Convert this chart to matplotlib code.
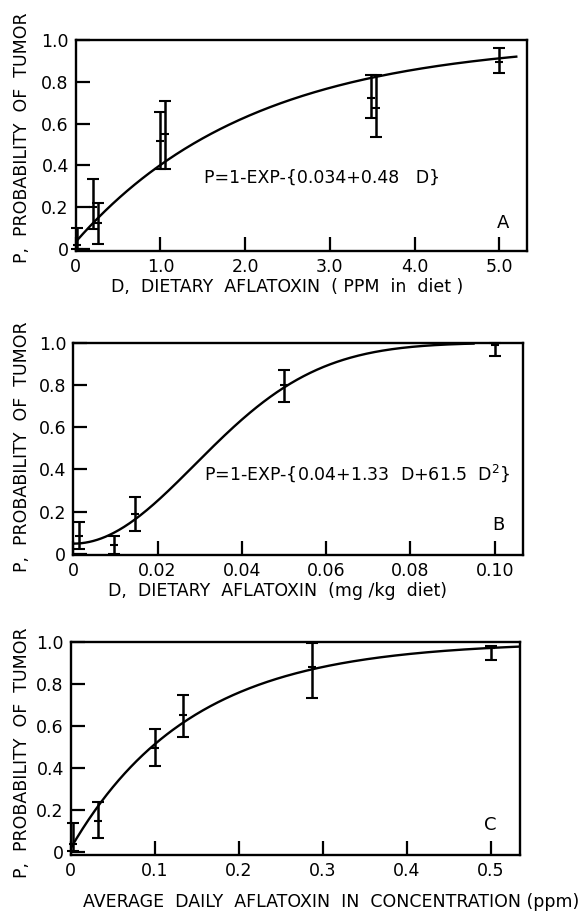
import numpy as np
import matplotlib.pyplot as plt

W, H = 579, 911

# panel A: dietary aflatoxin (ppm in diet)
a_dose = [0.013, 0.2, 0.265, 1.0, 1.05, 3.49, 3.55, 5.0]
a_prob = [0.02, 0.2, 0.124, 0.516, 0.55, 0.72, 0.676, 0.896]
a_low = [0.0, 0.093, 0.023, 0.382, 0.382, 0.626, 0.536, 0.843]
a_high = [0.10, 0.333, 0.222, 0.653, 0.708, 0.833, 0.833, 0.96]
a_xticks = [0, 1, 2, 3, 4, 5]
a_xlabels = ['0', '1.0', '2.0', '3.0', '4.0', '5.0']

# panel B: dietary aflatoxin (mg/kg diet)
b_dose = [0.0014, 0.0097, 0.0147, 0.050, 0.100]
b_prob = [0.087, 0.044, 0.19, 0.80, 0.99]
b_low = [0.024, 0.0, 0.11, 0.718, 0.937]
b_high = [0.153, 0.084, 0.269, 0.87, 1.0]
b_xticks = [0, 0.02, 0.04, 0.06, 0.08, 0.10]
b_xlabels = ['0', '0.02', '0.04', '0.06', '0.08', '0.10']

# panel C: average daily concentration (ppm)
c_dose = [0.003, 0.032, 0.1, 0.134, 0.287, 0.5]
c_prob = [0.04, 0.148, 0.497, 0.65, 0.88, 0.968]
c_low = [0.008, 0.071, 0.408, 0.549, 0.732, 0.913]
c_high = [0.142, 0.24, 0.587, 0.749, 0.992, 0.98]
c_xticks = [0, 0.1, 0.2, 0.3, 0.4, 0.5]
c_xlabels = ['0', '0.1', '0.2', '0.3', '0.4', '0.5']

yticks = [0, 0.2, 0.4, 0.6, 0.8, 1.0]
ylabels = ['0', '0.2', '0.4', '0.6', '0.8', '1.0']

# fitted curves P = 1 - exp(-(c0 + c1 D + c2 D^2)), as drawn
fit_a = [0.034, 0.48, 0.0]
fit_b = [0.05, 0.0, 600.0]
fit_c = [0.02, 7.0, 0.0]

fig = plt.figure(figsize=(W / 100, H / 100), dpi=100)


def px_axes(left, right, top, bottom):
    return fig.add_axes([left / W, 1 - bottom / H, (right - left) / W, (bottom - top) / H])


def ftext(x, y, s, **kw):
    fig.text(x / W, 1 - y / H, s, **kw)


def panel(ax, dose, prob, low, high, coef, dmax, xlim, ylo, xt, xl):
    d = np.linspace(0, dmax, 300)
    p = 1 - np.exp(-(coef[0] + coef[1] * d + coef[2] * d ** 2))
    ax.plot(d, p, color='black', lw=1.7)
    prob = np.array(prob)
    yerr = [prob - np.array(low), np.array(high) - prob]
    ax.errorbar(dose, prob, yerr=yerr, fmt='_', color='black', ms=6, mew=1.5,
                elinewidth=1.8, capsize=4.5, capthick=1.8, clip_on=False)
    ax.set_xlim(0, xlim)
    ax.set_ylim(ylo, 1.0)
    ax.set_xticks(xt)
    ax.set_xticklabels(xl)
    ax.set_yticks(yticks)
    ax.set_yticklabels(ylabels)
    ax.tick_params(direction='in', length=10, width=1.6, top=False, right=False,
                   labelsize=12.5, pad=5)
    for s in ax.spines.values():
        s.set_linewidth(1.7)


axA = px_axes(75.7, 527.3, 40, 251)
panel(axA, a_dose, a_prob, a_low, a_high, fit_a, 5.2, 5.33, -0.01, a_xticks, a_xlabels)

axB = px_axes(73.3, 523.3, 342.7, 555)
panel(axB, b_dose, b_prob, b_low, b_high, fit_b, 0.095, 0.1068, -0.005, b_xticks, b_xlabels)

axC = px_axes(70.7, 520, 641.7, 855)
panel(axC, c_dose, c_prob, c_low, c_high, fit_c, 0.535, 0.535, -0.012, c_xticks, c_xlabels)

ylab = 'P,  PROBABILITY  OF  TUMOR'
for yc in [138, 446.5, 752.5]:
    ftext(22, yc, ylab, rotation=90, ha='center', va='center', fontsize=12.5)

ftext(287, 287, 'D,  DIETARY  AFLATOXIN  ( PPM  in  diet )', ha='center', va='center',
      fontsize=12.5)
ftext(277, 591, 'D,  DIETARY  AFLATOXIN  (mg /kg  diet)', ha='center', va='center',
      fontsize=12.5)
ftext(331, 902, 'AVERAGE  DAILY  AFLATOXIN  IN  CONCENTRATION (ppm)',
      ha='center', va='center', fontsize=12.5)

ftext(322, 178, 'P=1-EXP-{0.034+0.48   D}', ha='center', va='center', fontsize=12.5)
ftext(357, 473, r'P=1-EXP-{0.04+1.33  D+61.5  D$^{2}$}', ha='center', va='center',
      fontsize=12.5)

ftext(503, 223, 'A', ha='center', va='center', fontsize=13)
ftext(498, 525, 'B', ha='center', va='center', fontsize=13)
ftext(490, 825, 'C', ha='center', va='center', fontsize=13)

fig.savefig('out.png', dpi=100)
